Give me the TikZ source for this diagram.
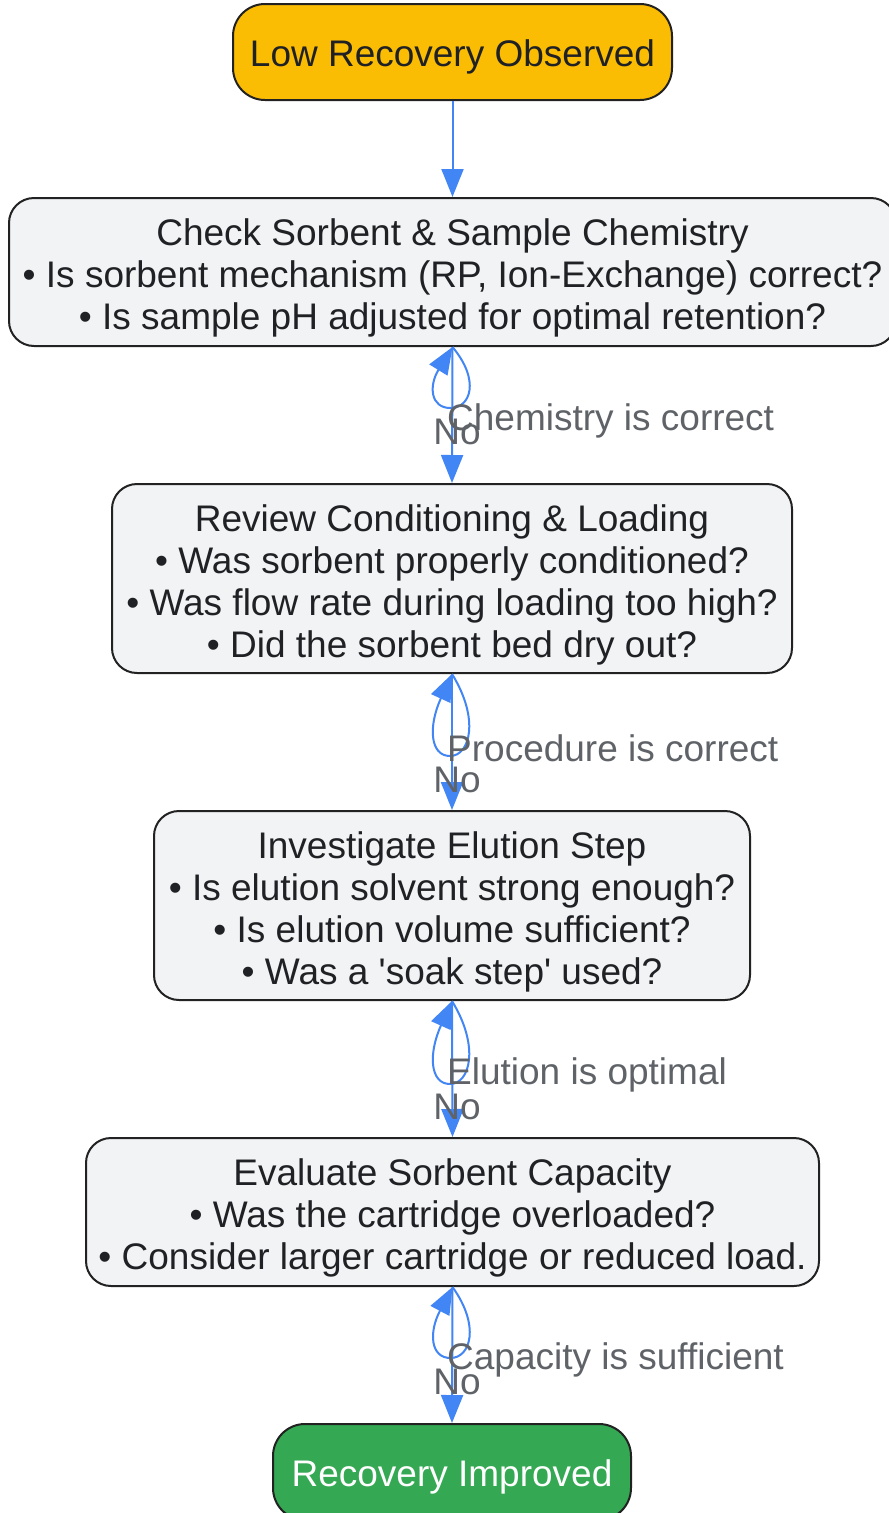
\documentclass[tikz,border=0pt]{standalone}
\usepackage{fontspec}
\setmainfont{Liberation Sans}
\usetikzlibrary{arrows.meta,calc}
\definecolor{amberc}{HTML}{FBBC04}
\definecolor{greenc}{HTML}{34A853}
\definecolor{grayf}{HTML}{F1F3F4}
\definecolor{bordc}{HTML}{222222}
\definecolor{textc}{HTML}{202124}
\definecolor{bluec}{HTML}{4285F4}
\definecolor{lblc}{HTML}{5F6368}
\newcommand\firstln{\rule{0pt}{39.5pt}}
\newcommand\myloop[2]{%
  \coordinate (#1lp) at ($(#1.south)+(-2,#2)$);
  \draw[loopst] (#1.south) .. controls +(28,{0.55*#2}) and +(20,0) .. (#1lp)
     .. controls +(-20,0) and +(-24,{0.64*#2}) .. (#1.south);}
\begin{document}
\begin{tikzpicture}[x=1pt,y=-1pt,
  bigfont/.style={font=\fontsize{37}{42}\selectfont},
  box/.style={draw=bordc, line width=2pt, rounded corners=25pt, fill=grayf,
    text=textc, align=center, bigfont, inner sep=0pt},
  pill/.style={box, rounded corners=32pt, execute at begin node={\rule{0pt}{37pt}}},
  lbl/.style={text=lblc, bigfont, inner sep=0pt},
  arr/.style={draw=bluec, line width=2pt, -{Triangle[length=28pt,width=22pt]}},
  loopst/.style={draw=bluec, line width=2pt, -{Triangle[length=27pt,width=21pt]}}]
\useasboundingbox (0,0) rectangle (889,1513);
\fill[white] (0,0) rectangle (889,1513);

\node[pill, fill=amberc, minimum width=439pt, minimum height=96pt] (b1) at (452.5,52) {Low Recovery Observed};
\node[box, minimum width=887pt, minimum height=148pt] (b2) at (452.5,272)
  {\firstln Check Sorbent \& Sample Chemistry\\ • Is sorbent mechanism (RP, Ion-Exchange) correct?\\ • Is sample pH adjusted for optimal retention?};
\node[box, minimum width=680pt, minimum height=189pt] (b3) at (452,578.5)
  {\firstln Review Conditioning \& Loading\\ • Was sorbent properly conditioned?\\ • Was flow rate during loading too high?\\ • Did the sorbent bed dry out?};
\node[box, minimum width=596pt, minimum height=189pt] (b4) at (452,905.5)
  {\firstln Investigate Elution Step\\ • Is elution solvent strong enough?\\ • Is elution volume sufficient?\\ • Was a \textquotesingle soak step\textquotesingle{} used?};
\node[box, minimum width=733pt, minimum height=148pt] (b5) at (452.5,1212)
  {\firstln Evaluate Sorbent Capacity\\ • Was the cartridge overloaded?\\ • Consider larger cartridge or reduced load.};
\node[pill, fill=greenc, text=white, minimum width=358pt, minimum height=96pt] (b6) at (452,1472) {Recovery Improved};

\draw[arr] (b1.south) -- (b2.north);
\draw[arr] (b2.south) -- (b3.north);
\draw[arr] (b3.south) -- (b4.north);
\draw[arr] (b4.south) -- (b5.north);
\draw[arr] (b5.south) -- (b6.north);

\myloop{b2}{61}
\myloop{b3}{82}
\myloop{b4}{83}
\myloop{b5}{71}

\node[lbl, anchor=west] (l2a) at (447,421) {Chemistry is correct};
\node[lbl] (l2b) at (457,432) {No};
\node[lbl, anchor=west] (l3a) at (447,748) {Procedure is correct};
\node[lbl] (l3b) at (457,780) {No};
\node[lbl, anchor=west] (l4a) at (447,1075) {Elution is optimal};
\node[lbl] (l4b) at (457,1107) {No};
\node[lbl, anchor=west] (l5a) at (447,1360) {Capacity is sufficient};
\node[lbl] (l5b) at (457,1382) {No};
\end{tikzpicture}
\end{document}
